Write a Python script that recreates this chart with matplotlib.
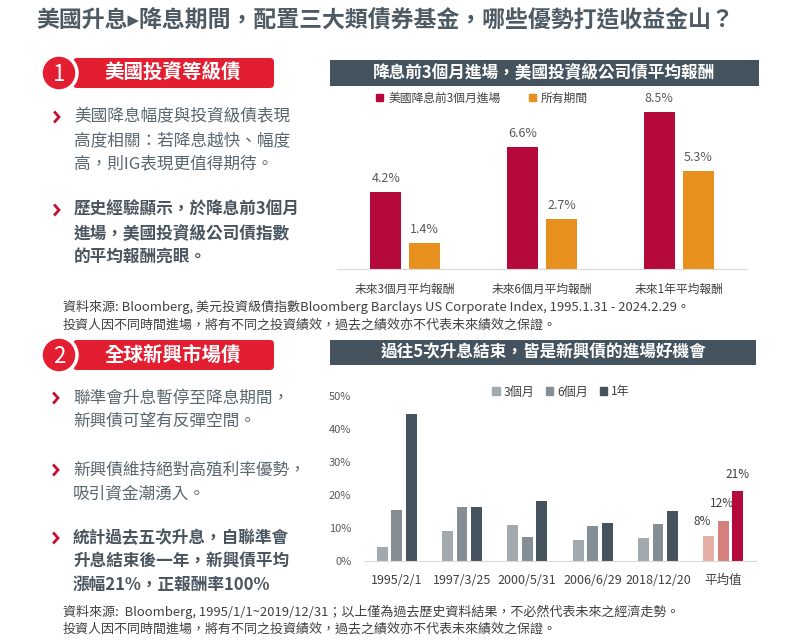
import numpy as np
import matplotlib.pyplot as plt
from matplotlib.patches import FancyBboxPatch, Circle, Rectangle, Patch

plt.rcParams['font.family'] = ['Noto Sans CJK TC', 'DejaVu Sans']

# ======================
# Data
# ======================
ig_groups = ["未來3個月平均報酬", "未來6個月平均報酬", "未來1年平均報酬"]
ig_cut = [4.2, 6.6, 8.5]      # 美國降息前3個月進場
ig_all = [1.4, 2.7, 5.3]      # 所有期間

em_groups = ["1995/2/1", "1997/3/25", "2000/5/31", "2006/6/29", "2018/12/20", "平均值"]
em_3m = [4.2, 9.1, 10.9, 6.4, 7.0, 7.6]
em_6m = [15.5, 16.4, 7.3, 10.6, 11.2, 12.1]
em_1y = [44.5, 16.4, 18.2, 11.5, 15.2, 21.2]
em_avg_labels = ["8%", "12%", "21%"]

# ======================
# Colours
# ======================
RED_BANNER = "#e41e31"
SLATE = "#44535e"
TXT = "#5b6770"
TXT_DARK = "#4a5560"
CRIMSON = "#b5093b"
ORANGE = "#e8901e"
G3, G6, G1 = "#a2aaaf", "#848e94", "#44535e"
P3, P6 = "#e4b0a6", "#d5807c"

W, H = 788, 644
fig = plt.figure(figsize=(W / 100, H / 100), dpi=100)

# background layer in pixel coordinates
bg = fig.add_axes([0, 0, 1, 1], zorder=0)
bg.set_xlim(0, W)
bg.set_ylim(H, 0)
bg.axis("off")

bg.text(36, 21, "美國升息▸降息期間，配置三大類債券基金，哪些優勢打造收益金山？",
        fontsize=16.5, fontweight="bold", color="#4e5a64", va="center", ha="left")


def banner(num, label, cy):
    bg.add_patch(FancyBboxPatch((73, cy - 15), 201, 30,
                                boxstyle="round,pad=0,rounding_size=4",
                                fc=RED_BANNER, ec="none"))
    bg.add_patch(Circle((59, cy), 18, fc=RED_BANNER, ec="white", lw=2.5))
    bg.text(59, cy + 1, num, color="white", fontsize=16, ha="center", va="center")
    bg.text(172.5, cy, label, color="white", fontsize=14, fontweight="bold",
            ha="center", va="center")


def bullet(x, y, lines, bold=False, x_text=74, step=23.5):
    bg.plot([x, x + 4, x], [y - 4.5, y, y + 4.5], color="#c8102e", lw=2,
            solid_joinstyle="miter")
    for i, s in enumerate(lines):
        bg.text(x_text, y + i * step, s, fontsize=12,
                color=TXT_DARK if bold else TXT,
                fontweight="bold" if bold else "normal", va="center", ha="left")


banner("1", "美國投資等級債", 73)
bullet(55, 117, ["美國降息幅度與投資級債表現", "高度相關：若降息越快、幅度", "高，則IG表現更值得期待。"])
bullet(55, 210, ["歷史經驗顯示，於降息前3個月", "進場，美國投資級公司債指數", "的平均報酬亮眼。"], bold=True)

banner("2", "全球新興市場債", 355)
bullet(54, 398, ["聯準會升息暫停至降息期間，", "新興債可望有反彈空間。"], x_text=73)
bullet(54, 470, ["新興債維持絕對高殖利率優勢，", "吸引資金潮湧入。"], x_text=73)
bullet(54, 538, ["統計過去五次升息，自聯準會", "升息結束後一年，新興債平均", "漲幅21%，正報酬率100%"],
       bold=True, x_text=73)

# chart headers
bg.add_patch(Rectangle((330, 60), 429, 26, fc=SLATE, ec="none"))
bg.text(544, 73, "降息前3個月進場，美國投資級公司債平均報酬", color="white",
        fontsize=12, fontweight="bold", ha="center", va="center")
bg.add_patch(Rectangle((330, 340), 426, 25, fc=SLATE, ec="none"))
bg.text(543, 352.5, "過往5次升息結束，皆是新興債的進場好機會", color="white",
        fontsize=12, fontweight="bold", ha="center", va="center")

# source notes
note_kw = dict(fontsize=9.4, color="#404040", va="center")
bg.text(63, 307, "資料來源: Bloomberg, 美元投資級債指數Bloomberg Barclays US Corporate Index, 1995.1.31 - 2024.2.29。", **note_kw)
bg.text(63, 325, "投資人因不同時間進場，將有不同之投資績效，過去之績效亦不代表未來績效之保證。", **note_kw)
bg.text(63, 612, "資料來源:  Bloomberg, 1995/1/1~2019/12/31；以上僅為過去歷史資料結果，不必然代表未來之經濟走勢。", **note_kw)
bg.text(63, 629, "投資人因不同時間進場，將有不同之投資績效，過去之績效亦不代表未來績效之保證。", **note_kw)


def fig_rect(x0, y_top, x1, y_bot):
    return [x0 / W, 1 - y_bot / H, (x1 - x0) / W, (y_bot - y_top) / H]


# ======================
# Chart 1: US IG
# ======================
ax1 = fig.add_axes(fig_rect(337, 94, 747, 269), zorder=1)
ax1.patch.set_alpha(0)
x = np.arange(len(ig_groups))
b1 = ax1.bar(x - 0.142, ig_cut, 0.226, color=CRIMSON)
b2 = ax1.bar(x + 0.142, ig_all, 0.226, color=ORANGE)
for b in (b1, b2):
    ax1.bar_label(b, labels=[f"{v:.1f}%" for v in b.datavalues], padding=5,
                  fontsize=9, color="#595959")
ax1.set_xlim(-0.5, 2.5)
ax1.set_ylim(0, 9.5)
ax1.set_xticks(x, ig_groups, fontsize=8.5, color="#404040")
ax1.tick_params(axis="x", length=0, pad=10)
ax1.set_yticks([])
for s in ("top", "right", "left"):
    ax1.spines[s].set_visible(False)
ax1.spines["bottom"].set_color("#d9d9d9")
ax1.legend(handles=[Patch(color=CRIMSON, label="美國降息前3個月進場"),
                    Patch(color=ORANGE, label="所有期間")],
           ncol=2, loc="center", bbox_to_anchor=(482 / W, 1 - 98 / H),
           bbox_transform=fig.transFigure, frameon=False, fontsize=8.5,
           handlelength=0.6, handleheight=0.6, handletextpad=0.4,
           columnspacing=2.4, labelcolor="#404040")

# ======================
# Chart 2: EM debt
# ======================
ax2 = fig.add_axes(fig_rect(364, 396, 756, 561), zorder=1)
ax2.patch.set_alpha(0)
x2 = np.arange(len(em_groups))
n = len(em_groups) - 1
ax2.bar(x2 - 0.222, em_3m, 0.168, color=[G3] * n + [P3])
ax2.bar(x2, em_6m, 0.168, color=[G6] * n + [P6])
ax2.bar(x2 + 0.222, em_1y, 0.168, color=[G1] * n + [CRIMSON])
avg_vals = [em_3m[-1], em_6m[-1], em_1y[-1]]
offsets = [(-7, 14), (-1, 18), (0, 17)]
for k, (v, lab, off) in enumerate(zip(avg_vals, em_avg_labels, offsets)):
    ax2.annotate(lab, (x2[-1] + (k - 1) * 0.222, v), xytext=off,
                 textcoords="offset pixels", ha="center", va="center",
                 fontsize=8.5, color="#404040")
ax2.set_xlim(-0.5, 5.5)
ax2.set_ylim(0, 50)
ax2.set_yticks(np.arange(0, 51, 10), [f"{t}%" for t in range(0, 51, 10)],
               fontsize=8, color="#595959")
ax2.set_xticks(x2, em_groups, fontsize=9, color="#404040")
ax2.tick_params(axis="x", length=0, pad=9)
ax2.tick_params(axis="y", length=0, pad=9)
for s in ("top", "right", "left"):
    ax2.spines[s].set_visible(False)
ax2.spines["bottom"].set_color("#d9d9d9")
ax2.legend(handles=[Patch(color=G3, label="3個月"), Patch(color=G6, label="6個月"),
                    Patch(color=G1, label="1年")],
           ncol=3, loc="center", bbox_to_anchor=(561 / W, 1 - 392 / H),
           bbox_transform=fig.transFigure, frameon=False, fontsize=8.7,
           handlelength=0.6, handleheight=0.6, handletextpad=0.3,
           columnspacing=1.0, labelcolor="#404040")

fig.savefig("out.png", dpi=100)
